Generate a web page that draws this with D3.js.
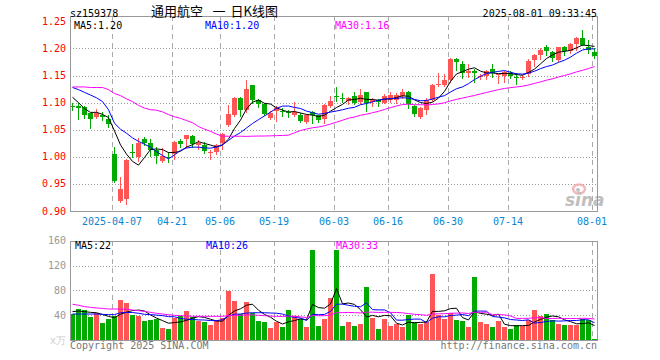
<!DOCTYPE html>
<html>
<head>
<meta charset="utf-8">
<script src="https://cdn.jsdelivr.net/npm/d3@7/dist/d3.min.js"></script>
<style>
  body { margin: 0; background: #fff; }
  text { font-family: "DejaVu Sans Mono", monospace; font-size: 10px; }
</style>
</head>
<body>
<svg id="chart"></svg>
<script>
// daily candles, 2025-03-26 .. 2025-08-01
const opens  = [1.094,1.093,1.092,1.080,1.074,1.078,1.070,1.006,0.918,0.922,1.009,1.000,1.032,1.026,1.013,0.992,1.000,1.006,1.029,1.033,
                1.039,1.021,1.021,1.007,1.008,1.025,1.059,1.077,1.109,1.087,1.133,1.104,1.098,1.072,1.084,1.085,1.083,1.078,1.078,1.065,
                1.082,1.077,1.069,1.093,1.113,1.108,1.103,1.112,1.102,1.120,1.101,1.104,1.100,1.105,1.105,1.112,1.120,1.094,1.073,1.087,
                1.105,1.133,1.133,1.141,1.180,1.172,1.154,1.158,1.148,1.149,1.163,1.151,1.150,1.155,1.148,1.147,1.152,1.178,1.188,1.202,
                1.194,1.178,1.202,1.196,1.208,1.219,1.203,1.194]
const highs  = [1.100,1.100,1.093,1.080,1.089,1.083,1.078,1.018,0.962,0.996,1.024,1.035,1.036,1.032,1.018,1.016,1.008,1.029,1.033,1.041,
                1.040,1.031,1.028,1.012,1.024,1.044,1.096,1.110,1.110,1.141,1.133,1.107,1.100,1.084,1.094,1.090,1.086,1.101,1.080,1.079,
                1.084,1.078,1.097,1.112,1.128,1.118,1.110,1.120,1.125,1.120,1.108,1.107,1.116,1.120,1.117,1.125,1.122,1.096,1.092,1.108,
                1.134,1.154,1.152,1.183,1.182,1.176,1.171,1.163,1.153,1.160,1.171,1.153,1.158,1.158,1.155,1.151,1.180,1.190,1.200,1.207,
                1.196,1.203,1.204,1.210,1.221,1.234,1.216,1.200]
const lows   = [1.087,1.069,1.071,1.054,1.071,1.068,1.055,0.953,0.916,0.913,0.999,0.992,1.021,1.001,0.989,0.990,0.990,0.996,1.018,1.019,
                1.019,1.014,1.007,0.996,1.005,1.014,1.057,1.075,1.076,1.082,1.100,1.092,1.077,1.070,1.067,1.076,1.074,1.076,1.064,1.062,
                1.063,1.065,1.062,1.092,1.103,1.101,1.098,1.098,1.100,1.085,1.094,1.093,1.099,1.102,1.100,1.109,1.091,1.076,1.072,1.079,
                1.103,1.130,1.131,1.139,1.160,1.146,1.147,1.139,1.143,1.143,1.147,1.137,1.139,1.145,1.135,1.143,1.150,1.168,1.180,1.188,
                1.177,1.176,1.188,1.192,1.198,1.206,1.192,1.182]
const closes = [1.093,1.091,1.078,1.069,1.080,1.074,1.061,0.955,0.940,0.995,1.007,1.026,1.026,1.013,1.001,1.001,0.998,1.028,1.023,1.040,
                1.023,1.026,1.011,1.009,1.022,1.042,1.079,1.109,1.087,1.125,1.105,1.098,1.079,1.080,1.091,1.083,1.081,1.083,1.067,1.077,
                1.077,1.068,1.096,1.103,1.111,1.106,1.109,1.100,1.115,1.100,1.105,1.102,1.112,1.115,1.114,1.120,1.098,1.079,1.090,1.105,
                1.133,1.135,1.141,1.181,1.175,1.154,1.158,1.154,1.150,1.158,1.154,1.152,1.156,1.150,1.147,1.148,1.177,1.188,1.198,1.196,
                1.182,1.202,1.195,1.208,1.219,1.207,1.198,1.187]
// volume, 万
const volumes = [41.4,50,48.4,37.1,43,27.4,34.4,38.2,64.5,59.7,40.3,38.7,30.6,32.8,34.4,19.9,17.7,35.5,38.7,46.8,
                 37.1,30.6,29,24.2,32.3,35.5,79,62.9,41.9,61.3,43.5,30.6,29,19.4,29,21,48.4,38.7,33.9,21,
                 145,22.6,33.9,67.7,145,22.6,29,22.6,25.8,85.5,35.5,17.7,33.9,22.6,25.8,21,40.3,29,25.8,29,
                 106.5,40.3,33.9,43.5,32.3,30.6,21,101.6,29,25.8,21,30.6,21,17.7,24.2,22.6,32.3,48.4,38.7,41.9,
                 32.3,25.8,24.2,24.2,24.2,33.9,32.3,1.6]

// moving-average values at the left edge, where the window reaches before the first candle
const ma5Head  = [1.110,1.100,1.089,1.082]
const ma10Head = [1.128,1.124,1.119,1.114,1.109,1.102,1.087,1.062,1.051]
const ma30Head = [1.129,1.129,1.129,1.128,1.128,1.128,1.124,1.117,1.113,1.107,1.102,1.095,1.090,1.087,1.086,
                  1.083,1.078,1.074,1.071,1.067,1.063,1.056,1.051,1.047,1.042,1.038,1.038,1.038,1.038]
const vma5Head  = [45.7,46.8,45.7,44.6]
const vma10Head = [41.9,41.9,41.9,41.9,41.9,41.4,40.9,40.9,44.0]
const vma30Head = [57.6,56,53.8,52.7,51.6,51,50,50,50,49.5,48.4,47.3,46.2,44.6,43,41.9,40.8,39.8,39.2,38.7,
                   38.2,38.2,38.2,38.2,38.2,38.2,39.2,39.8,39.8]

const tickIndex  = [7, 17, 25, 34, 44, 53, 63, 73, 87]
const tickLabels = ['2025-04-07','04-21','05-06','05-19','06-03','06-16','06-30','07-14','08-01']
const priceTicks = [0.90, 0.95, 1.00, 1.05, 1.10, 1.15, 1.20, 1.25]
const volTicks   = [40, 80, 120, 160]
const priceMaText = ['MA5:1.20', 'MA10:1.20', 'MA30:1.16']
const volMaText   = ['MA5:22', 'MA10:26', 'MA30:33']
const titleParts  = ['通用航空', '一', '日K线图']
const maColors = ['#000', '#00f', '#f0f']

const W = 660, H = 360
const left = 70, right = 597
const mainTop = 16, mainBottom = 211
const volTop = 241, volBottom = 340
const UP = '#f55', DOWN = '#0a0'

const svg = d3.select('#chart').attr('width', W).attr('height', H)
svg.append('rect').attr('width', W).attr('height', H).attr('fill', '#fff')

const n = closes.length
const x = d3.scaleLinear().domain([0, n]).range([left, left + 6 * n])
const bw = x(1) - x(0) - 1
const y = d3.scaleLinear().domain([0.90, 1.25]).range([mainBottom, 21.4])
const yv = d3.scaleLinear().domain([0, 160]).range([volBottom, 240.8])

function movingAvg(vals, period, head) {
  return vals.map((v, i) => i < head.length ? head[i] : d3.mean(vals.slice(i - period + 1, i + 1)))
}

// gridlines
const grid = svg.append('g')
tickIndex.forEach(i => {
  [[mainTop, mainBottom], [volTop, volBottom]].forEach(([a, b]) => {
    grid.append('line')
      .attr('x1', Math.round(x(i)) + 0.5).attr('x2', Math.round(x(i)) + 0.5)
      .attr('y1', a).attr('y2', b)
      .attr('stroke', '#aaa').attr('stroke-dasharray', '5,4')
  })
})
priceTicks.filter(t => t > 0.91 && t < 1.24).forEach(t => {
  grid.append('line')
    .attr('x1', left).attr('x2', right)
    .attr('y1', Math.round(y(t)) + 0.5).attr('y2', Math.round(y(t)) + 0.5)
    .attr('stroke', '#999').attr('stroke-dasharray', '1,2')
})
volTicks.filter(t => t < 160).forEach(t => {
  grid.append('line')
    .attr('x1', left).attr('x2', right)
    .attr('y1', Math.round(yv(t)) + 0.5).attr('y2', Math.round(yv(t)) + 0.5)
    .attr('stroke', '#999').attr('stroke-dasharray', '1,2')
})

// watermark
const logo = svg.append('g').attr('opacity', 0.75)
logo.append('ellipse').attr('cx', 579).attr('cy', 189).attr('rx', 6).attr('ry', 4.5)
  .attr('fill', 'none').attr('stroke', '#f2a0a0').attr('stroke-width', 2.5)
logo.append('circle').attr('cx', 578).attr('cy', 190).attr('r', 2).attr('fill', '#aaa')
logo.append('text').attr('x', 565).attr('y', 206)
  .style('font-family', 'DejaVu Sans').style('font-size', '17px')
  .style('font-weight', 'bold').style('font-style', 'italic')
  .attr('fill', '#aaa').text('sina')

// candles
const candles = svg.append('g')
d3.range(n).forEach(i => {
  const o = opens[i], c = closes[i]
  const col = c > o ? UP : c < o ? DOWN : UP
  const xc = Math.round(x(i)) + 2.5
  candles.append('line')
    .attr('x1', xc).attr('x2', xc)
    .attr('y1', Math.round(y(highs[i]))).attr('y2', Math.round(y(lows[i])) + 1)
    .attr('stroke', col)
  const top = Math.round(y(Math.max(o, c)))
  const bot = Math.round(y(Math.min(o, c)))
  candles.append('rect')
    .attr('x', Math.round(x(i))).attr('width', bw)
    .attr('y', top).attr('height', Math.max(1, bot - top))
    .attr('fill', col)
})

// volume bars
svg.append('g').selectAll('rect').data(volumes).enter().append('rect')
  .attr('x', (d, i) => Math.round(x(i))).attr('width', bw)
  .attr('y', d => Math.round(yv(d))).attr('height', d => volBottom - Math.round(yv(d)))
  .attr('fill', (d, i) => closes[i] >= opens[i] ? UP : DOWN)

// moving averages
const priceMas = [movingAvg(closes, 5, ma5Head), movingAvg(closes, 10, ma10Head), movingAvg(closes, 30, ma30Head)]
const volMas = [movingAvg(volumes, 5, vma5Head), movingAvg(volumes, 10, vma10Head), movingAvg(volumes, 30, vma30Head)]
const pLine = d3.line().x((d, i) => x(i) + 2.5).y(d => y(d))
const vLine = d3.line().x((d, i) => x(i) + 2.5).y(d => yv(d))
priceMas.forEach((m, k) => {
  svg.append('path').attr('d', pLine(m)).attr('fill', 'none').attr('stroke', maColors[k]).attr('stroke-width', 1)
})
volMas.forEach((m, k) => {
  svg.append('path').attr('d', vLine(m)).attr('fill', 'none').attr('stroke', maColors[k]).attr('stroke-width', 1)
})

// panel frames
svg.append('rect').attr('x', left + 0.5).attr('y', mainTop + 0.5)
  .attr('width', right - left).attr('height', mainBottom - mainTop)
  .attr('fill', 'none').attr('stroke', '#999')
svg.append('rect').attr('x', left + 0.5).attr('y', volTop + 0.5)
  .attr('width', right - left).attr('height', volBottom - volTop)
  .attr('fill', 'none').attr('stroke', '#999')

// axis labels
svg.append('g').selectAll('text').data(priceTicks).enter().append('text')
  .attr('x', 66).attr('y', d => y(d)).attr('dy', '0.35em')
  .attr('text-anchor', 'end').attr('fill', '#f00')
  .text(d => d.toFixed(2))
svg.append('g').selectAll('text').data(volTicks).enter().append('text')
  .attr('x', 66).attr('y', d => yv(d)).attr('dy', '0.35em')
  .attr('text-anchor', 'end').attr('fill', '#999')
  .text(d => d)
svg.append('text').attr('x', 66).attr('y', 344).attr('text-anchor', 'end')
  .attr('fill', '#ccc').text('x万')
svg.append('g').selectAll('text').data(tickIndex).enter().append('text')
  .attr('x', d => x(d)).attr('y', 225).attr('text-anchor', 'middle')
  .attr('fill', '#0a85d0')
  .text((d, i) => tickLabels[i])

// header
svg.append('text').attr('x', 70).attr('y', 16.5).attr('fill', '#000').text('sz159378')
const titleX = [151, 212.5, 230.5]
titleParts.forEach((t, k) => {
  svg.append('text').attr('x', titleX[k]).attr('y', 16)
    .style('font-family', '"Noto Sans CJK SC", sans-serif').style('font-size', '13px')
    .attr('fill', '#000').text(t)
})
svg.append('text').attr('x', 597).attr('y', 16.5).attr('text-anchor', 'end')
  .attr('fill', '#000').text('2025-08-01 09:33:45')

const maX = [74, 205, 335]
priceMaText.forEach((t, k) => {
  svg.append('text').attr('x', maX[k]).attr('y', 29.3).attr('fill', maColors[k]).text(t)
})
volMaText.forEach((t, k) => {
  svg.append('text').attr('x', maX[k] + 1).attr('y', 249.3).attr('fill', maColors[k]).text(t)
})

// footer
svg.append('text').attr('x', 70).attr('y', 349).attr('fill', '#777').text('Copyright 2025 SINA.COM')
svg.append('text').attr('x', 597).attr('y', 349).attr('text-anchor', 'end')
  .attr('fill', '#777').text('http://finance.sina.com.cn')
</script>
</body>
</html>
